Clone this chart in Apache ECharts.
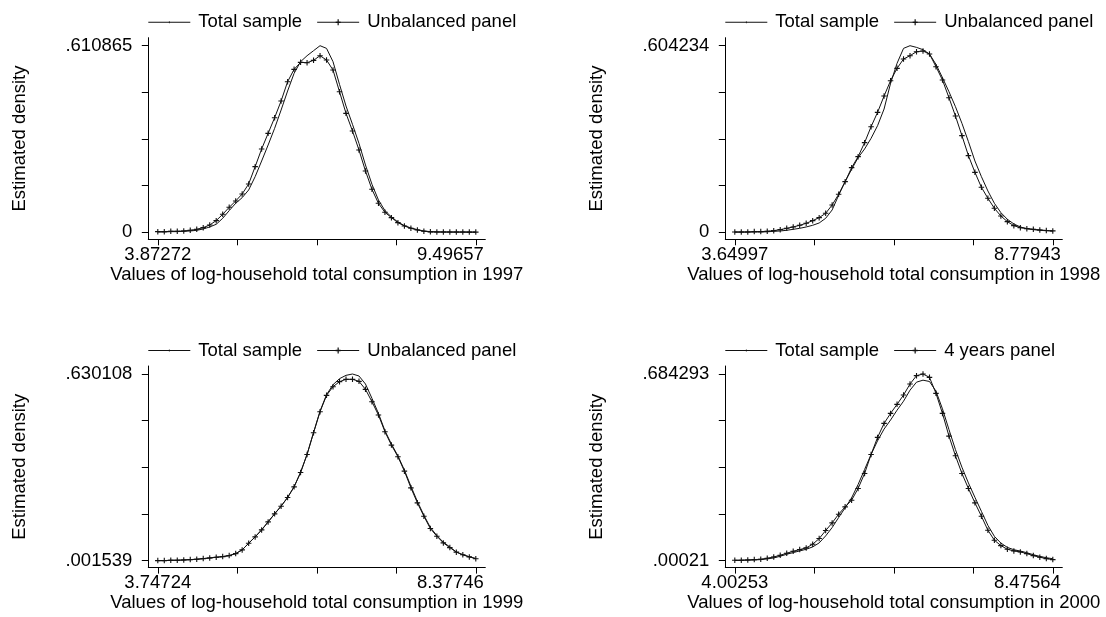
<!DOCTYPE html>
<html><head><meta charset="utf-8">
<script src="https://cdn.jsdelivr.net/npm/echarts@6/dist/echarts.min.js"></script>
<style>html,body{margin:0;padding:0;background:#fff}#c{width:1106px;height:617px}</style>
</head><body><div id="c"></div>
<script>
// ---------- data ----------
const xTitles = [
  'Values of log-household total consumption in 1997',
  'Values of log-household total consumption in 1998',
  'Values of log-household total consumption in 1999',
  'Values of log-household total consumption in 2000'
];
const legendNames = [
  ['Total sample', 'Unbalanced panel'],
  ['Total sample', 'Unbalanced panel'],
  ['Total sample', 'Unbalanced panel'],
  ['Total sample', '4 years panel']
];
const yTitle = 'Estimated density';

const xRange1997 = [3.87272, 9.49657];
const xRange1998 = [3.64997, 8.77943];
const xRange1999 = [3.74724, 8.37746];
const xRange2000 = [4.00253, 8.47564];

const yRange1997 = [0, 0.610865];
const yRange1998 = [0, 0.604234];
const yRange1999 = [0.001539, 0.630108];
const yRange2000 = [0.00021, 0.684293];

const xTickLabels1997 = ['3.87272', '9.49657'];
const xTickLabels1998 = ['3.64997', '8.77943'];
const xTickLabels1999 = ['3.74724', '8.37746'];
const xTickLabels2000 = ['4.00253', '8.47564'];
const yTickLabels1997 = ['0', '.610865'];
const yTickLabels1998 = ['0', '.604234'];
const yTickLabels1999 = ['.001539', '.630108'];
const yTickLabels2000 = ['.00021', '.684293'];

// densities at 50 evenly spaced evaluation points (kdensity grid)
const total1997 = [.0011,.0011,.0022,.0022,.0033,.0044,.0065,.0109,.0175,.0262,
 .0458,.0709,.0949,.1134,.1385,.1822,.2334,.2858,.3403,.4003,
 .4625,.5203,.5585,.5781,.5945,.610865,.6021,.5585,.4843,.4134,
 .3534,.2912,.2203,.1571,.1058,.0709,.0502,.0338,.0218,.0142,
 .0087,.0044,.0022,.0011,.0009,.0008,.0007,.0007,.0006,.0005];
const unbal1997 = [.0022,.0022,.0033,.0033,.0044,.0065,.0098,.0153,.0240,.0382,
 .0589,.0818,.1025,.1254,.1582,.2149,.2727,.3240,.3752,.4298,
 .4930,.5334,.5563,.5552,.5629,.5781,.5639,.5312,.4603,.3894,
 .3316,.2694,.2007,.1407,.0949,.0654,.0480,.0316,.0207,.0131,
 .0076,.0033,.0015,.0011,.0010,.0009,.0008,.0008,.0007,.0006];

const total1998 = [.0005,.0005,.0008,.0011,.0011,.0016,.0032,.0043,.0065,.0097,
 .0129,.0173,.0227,.0302,.0453,.0723,.1198,.1640,.2039,.2417,
 .2698,.3043,.3453,.3992,.4823,.5471,.5956,.604234,.5988,.5913,
 .5773,.5438,.5007,.4553,.4068,.3528,.2935,.2309,.1802,.1338,
 .0939,.0637,.0421,.0270,.0173,.0119,.0086,.0065,.0050,.0040];
const unbal1998 = [.0011,.0011,.0011,.0022,.0022,.0032,.0054,.0086,.0129,.0173,
 .0227,.0291,.0378,.0475,.0615,.0885,.1230,.1640,.2093,.2449,
 .2903,.3420,.3884,.4413,.4909,.5309,.5611,.5719,.5848,.5870,
 .5773,.5363,.4931,.4359,.3766,.3129,.2482,.1942,.1457,.1101,
 .0777,.0529,.0345,.0216,.0151,.0119,.0097,.0076,.0060,.0045];

const total1999 = [.00154,.00160,.00260,.00270,.00370,.00480,.00610,.00820,.01050,.01270,
 .01500,.01850,.02500,.03760,.05990,.08150,.10480,.13200,.15900,.18500,
 .21420,.25000,.29850,.35950,.43300,.50500,.56040,.59410,.61440,.62560,
 .630108,.62340,.59640,.54810,.49750,.43890,.39400,.35460,.30630,.25230,
 .20060,.15450,.11290,.08590,.06340,.04760,.03050,.02150,.01450,.00850];
const unbal1999 = [.00154,.00154,.00266,.00266,.00379,.00491,.00604,.00829,.01053,.01278,
 .01503,.01841,.02515,.03752,.06001,.08138,.10499,.13198,.15897,.18483,
 .21407,.25005,.29841,.35913,.43222,.50307,.55817,.58741,.60428,.61215,
 .61215,.60540,.57842,.53681,.49183,.43560,.39062,.35126,.30290,.24668,
 .19608,.15110,.10949,.08363,.06114,.04539,.03000,.02100,.01400,.00800];

const total2000 = [.0008,.00143,.0020,.00266,.00388,.00633,.00999,.01612,.02346,.02958,
 .03570,.04182,.05038,.06507,.09077,.12137,.15808,.19357,.23028,.27924,
 .33431,.38938,.43955,.48238,.51543,.55158,.58462,.62501,.65438,.66172,
 .65683,.62134,.55648,.48061,.40718,.34233,.28481,.23218,.18077,.12937,
 .08910,.06452,.04861,.04004,.03525,.02913,.02179,.01567,.01077,.00710];
const panel4yr2000 = [.00143,.00143,.00266,.00388,.00511,.00878,.01367,.01979,.02713,.03448,
 .04059,.04671,.06018,.08098,.11035,.13850,.17032,.19724,.22172,.26455,
 .31962,.38938,.45179,.50319,.53990,.57295,.60721,.64760,.67819,.684293,
 .67207,.61332,.53990,.45669,.38448,.31962,.26455,.21193,.16298,.11157,
 .07486,.05528,.04182,.03570,.03203,.02591,.01857,.01245,.00755,.00388];

// ---------- assembly ----------
const panels = [
  {xr: xRange1997, yr: yRange1997, xl: xTickLabels1997, yl: yTickLabels1997, a: total1997, b: unbal1997},
  {xr: xRange1998, yr: yRange1998, xl: xTickLabels1998, yl: yTickLabels1998, a: total1998, b: unbal1998},
  {xr: xRange1999, yr: yRange1999, xl: xTickLabels1999, yl: yTickLabels1999, a: total1999, b: unbal1999},
  {xr: xRange2000, yr: yRange2000, xl: xTickLabels2000, yl: yTickLabels2000, a: total2000, b: panel4yr2000}
];

const FONT = '"Liberation Sans", Arial, Helvetica, sans-serif';
const FS = 18.5;
const INK = '#000';
// y-axis line x position and top end of each panel's plot box
const axisPos = [[148.3, 37.7], [725.3, 37.7], [148.3, 366], [725.3, 366]];
const PAD_L = 9.5, PAD_R = 9.5, PAD_T = 8, PAD_B = 7, SPAN_X = 318, SPAN_Y = 186.6;
const MAXLABEL_INSET = 1.5; // px: right edge of the max x label sits just inside the axis end

const ICON_TOTAL = 'path://M0,0L0.01,0L0,0.01Z M0,2.5H42V3.5H0Z M20.6,2H21.4V4H20.6Z M42,6L41.99,6L42,5.99Z';
const ICON_PANEL = 'path://M0,2.5H42V3.5H0Z M20.4,0H21.6V6H20.4Z M18.5,2.3H23.5V3.7H18.5Z';
const PLUS = 'path://M2.4,0H3.6V2.4H6V3.6H3.6V6H2.4V3.6H0V2.4H2.4Z';

const grid = [], xAxis = [], yAxis = [], series = [], legend = [];

function ticks5(lo, hi) { const t = []; for (let k = 0; k <= 4; k++) t.push(k === 4 ? hi : lo + k * (hi - lo) / 4); return t; }
function evalGrid(lo, hi, n) { const xs = []; for (let i = 0; i < n; i++) xs.push(i === n - 1 ? hi : lo + i * (hi - lo) / (n - 1)); return xs; }

panels.forEach((p, k) => {
  const [gl, gt] = axisPos[k];
  grid.push({left: gl, top: gt, width: PAD_L + SPAN_X + PAD_R, height: PAD_T + SPAN_Y + PAD_B});
  const [xlo, xhi] = p.xr, [ylo, yhi] = p.yr;
  const ux = (xhi - xlo) / SPAN_X, uy = (yhi - ylo) / SPAN_Y;
  const xMax = xhi + PAD_R * ux;
  const maxLabelAt = xMax - MAXLABEL_INSET * ux;
  xAxis.push({
    type: 'value', gridIndex: k,
    min: xlo - PAD_L * ux, max: xMax,
    axisLine: {show: true, onZero: false, lineStyle: {color: INK, width: 1}},
    axisTick: {show: true, length: 6, customValues: ticks5(xlo, xhi), lineStyle: {color: INK, width: 1}},
    axisLabel: {customValues: [xlo, maxLabelAt], alignMaxLabel: 'right', margin: 6,
      fontSize: FS, fontFamily: FONT, color: INK,
      formatter: v => (Math.abs(v - xlo) < 1e-9 ? p.xl[0] : p.xl[1])},
    splitLine: {show: false},
    name: xTitles[k], nameLocation: 'middle', nameGap: 24,
    nameTextStyle: {fontSize: FS, fontFamily: FONT, color: INK}
  });
  yAxis.push({
    type: 'value', gridIndex: k,
    min: ylo - PAD_B * uy, max: yhi + PAD_T * uy,
    axisLine: {show: true, onZero: false, lineStyle: {color: INK, width: 1}},
    axisTick: {show: true, length: 6.5, customValues: ticks5(ylo, yhi), lineStyle: {color: INK, width: 1}},
    axisLabel: {customValues: [ylo, yhi], margin: 16, fontSize: FS, fontFamily: FONT, color: INK,
      formatter: v => (Math.abs(v - ylo) < 1e-12 ? p.yl[0] : p.yl[1])},
    splitLine: {show: false},
    name: yTitle, nameLocation: 'middle', nameGap: 119,
    nameTextStyle: {fontSize: FS, fontFamily: FONT, color: INK}
  });
  const xs = evalGrid(xlo, xhi, p.a.length);
  const names = legendNames[k];
  series.push({
    type: 'line', name: names[0], xAxisIndex: k, yAxisIndex: k,
    data: p.a.map((v, i) => [xs[i], v]),
    symbol: 'none', smooth: false, silent: true,
    lineStyle: {color: '#111', width: 1}, itemStyle: {color: '#111'},
    emphasis: {disabled: true}, z: 2
  });
  series.push({
    type: 'line', name: names[1], xAxisIndex: k, yAxisIndex: k,
    data: p.b.map((v, i) => [xs[i], v]),
    symbol: PLUS, symbolSize: 5.5, showSymbol: true, showAllSymbol: true, smooth: false, silent: true,
    lineStyle: {color: '#111', width: 1}, itemStyle: {color: '#111'},
    emphasis: {disabled: true}, z: 3
  });
  legend.push({
    left: gl, top: gt - 25, padding: 0, orient: 'horizontal',
    itemWidth: 42, itemHeight: 6, itemGap: 15, selectedMode: false,
    textStyle: {fontSize: FS, fontFamily: FONT, color: INK, padding: [0, 0, 0, 3]},
    data: [{name: names[0], icon: ICON_TOTAL}, {name: names[1], icon: ICON_PANEL}]
  });
});

const chart = echarts.init(document.getElementById('c'), null, {renderer: 'canvas'});
chart.setOption({
  animation: false,
  backgroundColor: '#fff',
  textStyle: {fontFamily: FONT},
  grid, xAxis, yAxis, series, legend,
  tooltip: {show: false}
});
</script>
</body></html>
